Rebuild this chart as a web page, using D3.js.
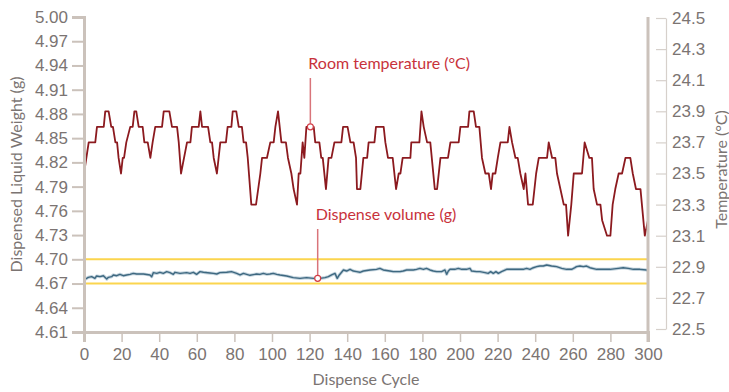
<!DOCTYPE html>
<html>
<head>
<meta charset="utf-8">
<script src="https://cdn.jsdelivr.net/npm/d3@7"></script>
<style>
  html, body { margin: 0; padding: 0; background: #ffffff; }
  svg { display: block; font-family: Lato, "Open Sans", sans-serif; }
</style>
</head>
<body>
<div id="chart"></div>
<script>
// tick labels
const weightTicks = [4.61, 4.64, 4.67, 4.70, 4.73, 4.76, 4.79, 4.82, 4.85, 4.88, 4.91, 4.94, 4.97, 5.00];
const tempTicks = [22.5, 22.7, 22.9, 23.1, 23.3, 23.5, 23.7, 23.9, 24.1, 24.3, 24.5];
const cycleTicks = [0, 20, 40, 60, 80, 100, 120, 140, 160, 180, 200, 220, 240, 260, 280, 300];

// spec limits (g)
const specLimits = [4.70, 4.67];

// room temperature (°C), [cycle, temp]
const roomTemp = [
  [0,23.5],[2.5,23.7],[6,23.7],[6.9,23.8],[10.5,23.8],[11.3,23.9],[13.1,23.9],[14.5,23.8],[15.4,23.8],
  [16.7,23.7],[17.6,23.7],[18.4,23.6],[19.7,23.5],[20.6,23.6],[21.3,23.6],[22.5,23.7],[24.6,23.8],
  [25.9,23.8],[26.8,23.9],[27.8,23.9],[29.1,23.8],[31.2,23.8],[32.1,23.7],[33.9,23.7],[35.3,23.6],
  [36.5,23.7],[37.9,23.8],[41.5,23.8],[42.4,23.9],[45.4,23.9],[46.8,23.8],[49.5,23.8],[50.4,23.7],
  [51.6,23.5],[54.8,23.7],[56.6,23.7],[57.4,23.8],[61,23.8],[61.9,23.9],[62.8,23.8],[66,23.8],
  [67.2,23.7],[68.1,23.7],[69,23.6],[70.7,23.5],[71.6,23.6],[72.5,23.7],[75.5,23.7],[76.4,23.8],
  [78.4,23.8],[79.1,23.9],[81,23.9],[82.3,23.8],[84,23.8],[84.9,23.7],[86.2,23.7],[87.1,23.6],
  [89,23.3],[91.5,23.3],[93.8,23.5],[94.7,23.6],[97.3,23.6],[99.1,23.7],[100.9,23.7],[101.8,23.8],
  [103.2,23.9],[105,23.7],[107.4,23.7],[108.5,23.6],[110.3,23.5],[111.5,23.4],[113.3,23.3],
  [114.2,23.5],[115.1,23.5],[116.3,23.7],[117.2,23.6],[118.3,23.8],[122.2,23.8],[123,23.7],
  [125.2,23.7],[126.2,23.6],[127,23.6],[128.7,23.4],[130.1,23.6],[131.6,23.6],[133.2,23.7],
  [136.9,23.7],[137.8,23.8],[140.2,23.8],[141.7,23.7],[143.4,23.7],[144.7,23.6],[145.2,23.4],
  [147,23.4],[148.6,23.6],[150.6,23.6],[151.4,23.7],[154.5,23.7],[155.3,23.8],[159.4,23.8],
  [160.3,23.7],[161.7,23.6],[164.2,23.6],[166,23.4],[167.4,23.5],[168.3,23.5],[169.5,23.6],
  [173.6,23.6],[174.1,23.7],[178.4,23.7],[179.5,23.9],[180.7,23.8],[182.5,23.7],[184.2,23.7],
  [186.6,23.4],[187.8,23.4],[189.6,23.6],[193.6,23.6],[194.9,23.7],[199.3,23.7],[200.2,23.8],
  [204.3,23.8],[205,23.9],[207.3,23.9],[208.5,23.8],[210.3,23.8],[211.7,23.6],[213.5,23.5],
  [215.3,23.5],[216.5,23.4],[217.4,23.5],[218.8,23.5],[220.1,23.6],[221.5,23.7],[225.4,23.7],
  [226.3,23.8],[227.7,23.7],[229.5,23.6],[230.7,23.6],[232.1,23.5],[233.9,23.4],[234.8,23.5],
  [236.2,23.3],[238.7,23.3],[240.5,23.5],[241.9,23.6],[246.3,23.6],[247.2,23.7],[249,23.6],
  [250.7,23.6],[251.6,23.5],[253.4,23.4],[255.2,23.3],[256.4,23.3],[257.5,23.1],[259.2,23.3],
  [260.5,23.5],[264.9,23.5],[266.3,23.7],[268.8,23.6],[270.2,23.6],[271.1,23.4],[272.9,23.3],
  [274.7,23.3],[275.6,23.2],[278.2,23.1],[280,23.1],[281.2,23.3],[282.6,23.4],[284.4,23.5],
  [286.2,23.5],[288,23.6],[290.6,23.6],[291.9,23.5],[293.6,23.4],[296,23.4],[298.3,23.1],[300,23.2]
];

// dispensed volume (g), [cycle, weight]
const dispenseVol = [
  [0,4.6744],[2.3,4.6777],[4.1,4.6785],[5.8,4.6764],[6.7,4.6793],[8.5,4.6785],[10.3,4.6797],
  [12.1,4.6756],[13,4.6777],[14.7,4.6785],[15.6,4.6806],[17.4,4.6797],[19.1,4.6814],[20.9,4.6797],
  [22.7,4.6806],[24.5,4.6814],[26.2,4.6826],[28,4.6818],[31.6,4.6818],[35.1,4.6806],[36,4.6785],
  [36.9,4.6835],[38.7,4.6826],[40.4,4.6839],[42.2,4.6826],[44,4.6847],[45.7,4.6835],[47.5,4.6814],
  [48.4,4.6839],[51.1,4.6826],[54.6,4.6835],[56.4,4.6826],[58.2,4.6839],[59.9,4.6814],[61.7,4.6847],
  [63.5,4.6839],[67,4.6830],[68.8,4.6826],[70.6,4.6818],[72.3,4.6835],[75.9,4.6839],[78.5,4.6847],
  [81.2,4.6826],[83,4.6806],[84.8,4.6826],[86.5,4.6814],[88.3,4.6802],[90.1,4.6810],[91.8,4.6818],
  [93.6,4.6814],[95.4,4.6826],[97.2,4.6814],[98.9,4.6818],[100.7,4.6826],[102.5,4.6814],
  [104.3,4.6806],[107.8,4.6793],[111.3,4.6773],[114.9,4.6764],[118.4,4.6773],[122,4.6764],
  [124.3,4.6764],[125.5,4.6764],[128.2,4.6773],[130,4.6785],[131.7,4.6806],[133.5,4.6826],
  [134.7,4.6764],[135.8,4.6806],[138,4.6868],[139.7,4.6855],[141.5,4.6876],[143.3,4.6855],
  [145,4.6847],[146.8,4.6839],[148.6,4.6855],[152.1,4.6868],[155.6,4.6876],[157.4,4.6888],
  [159.2,4.6868],[162.7,4.6855],[164.5,4.6847],[168.1,4.6847],[169.8,4.6855],[171.6,4.6868],
  [175.1,4.6868],[176.9,4.6876],[178.7,4.6888],[180.5,4.6876],[182.2,4.6888],[184,4.6868],
  [185.8,4.6855],[187.6,4.6847],[190.2,4.6847],[192,4.6868],[192.9,4.6814],[193.8,4.6855],
  [194.7,4.6876],[197.3,4.6876],[199.1,4.6888],[200.9,4.6876],[203.5,4.6876],[205.3,4.6888],
  [206.2,4.6855],[208.8,4.6847],[210.6,4.6847],[213.3,4.6835],[215,4.6826],[216.3,4.6847],
  [217.7,4.6826],[219.1,4.6847],[220.4,4.6826],[222.1,4.6847],[224.8,4.6876],[228.3,4.6876],
  [233.7,4.6876],[235.4,4.6888],[237.2,4.6876],[239,4.6896],[240.8,4.6909],[242.5,4.6917],
  [244.3,4.6917],[246.1,4.6929],[248.7,4.6917],[251.4,4.6909],[254.1,4.6888],[256.7,4.6876],
  [259.4,4.6876],[261.1,4.6896],[262,4.6909],[263.8,4.6917],[265.6,4.6909],[267.3,4.6917],
  [269.1,4.6896],[272.7,4.6876],[276.2,4.6876],[279.8,4.6876],[284.2,4.6888],[286.8,4.6896],
  [289.5,4.6888],[292.2,4.6876],[295.7,4.6876],[299.3,4.6868],[300,4.6855]
];

// callouts
const callouts = [
  { label: "Room temperature (°C)", cycle: 120.4, value: 23.8, axis: "temp", textY: 4.9356 },
  { label: "Dispense volume (g)", cycle: 124.3, value: 4.6765, axis: "weight", textY: 4.7487 }
];

const W = 729, H = 392;
const margin = { top: 17, right: 81, bottom: 60, left: 84 };
const width = W - margin.left - margin.right;
const height = H - margin.top - margin.bottom;

const axisColor = "#cbc2bb";
const textColor = "#7b7472";

const svg = d3.select("#chart").append("svg").attr("width", W).attr("height", H);
const g = svg.append("g").attr("transform", "translate(" + margin.left + "," + margin.top + ")");

const x = d3.scaleLinear().domain([0, 300]).range([0, width]);
const y = d3.scaleLinear().domain([4.61, 5.00]).range([height, 0]);
const yT = d3.scaleLinear().domain([22.5, 24.5]).range([height - 3, 1]);

// spec lines
g.selectAll(".spec")
  .data(specLimits)
  .enter()
  .append("line")
  .attr("x1", 0).attr("x2", width)
  .attr("y1", (d) => y(d)).attr("y2", (d) => y(d))
  .attr("stroke", "#fbd54e")
  .attr("stroke-width", 2);

// dispense volume line
const volLine = d3.line().x((d) => x(d[0])).y((d) => y(d[1]));
g.append("path").datum(dispenseVol)
  .attr("d", volLine).attr("fill", "none")
  .attr("stroke", "#c3d3dd").attr("stroke-width", 3.2).attr("stroke-linejoin", "round");
g.append("path").datum(dispenseVol)
  .attr("d", volLine).attr("fill", "none")
  .attr("stroke", "#3e6880").attr("stroke-width", 1.4).attr("stroke-linejoin", "round");

// room temperature line
const tempLine = d3.line().x((d) => x(d[0])).y((d) => yT(d[1]));
g.append("path").datum(roomTemp)
  .attr("d", tempLine).attr("fill", "none")
  .attr("stroke", "#8c1a1f").attr("stroke-width", 1.8).attr("stroke-linejoin", "round");

// left axis
const yAxis = g.append("g")
  .call(d3.axisLeft(y).tickValues(weightTicks).tickFormat(d3.format(".2f")).tickSize(12).tickPadding(4));
yAxis.select(".domain").attr("stroke", axisColor).attr("stroke-width", 3);
yAxis.selectAll(".tick line").attr("stroke", axisColor).attr("stroke-width", 2);
yAxis.selectAll("text").attr("fill", textColor).style("font-size", "17px").style("font-weight", 300);

// bottom axis
const xAxis = g.append("g").attr("transform", "translate(0," + height + ")")
  .call(d3.axisBottom(x).tickValues(cycleTicks).tickSize(10).tickPadding(6));
xAxis.select(".domain").attr("stroke", axisColor).attr("stroke-width", 3);
xAxis.selectAll(".tick line").attr("stroke", axisColor).attr("stroke-width", 1.5);
xAxis.selectAll("text").attr("fill", textColor).style("font-size", "17px").style("font-weight", 300);

// right frame line
g.append("line")
  .attr("x1", width).attr("x2", width).attr("y1", 0).attr("y2", height + 10)
  .attr("stroke", axisColor).attr("stroke-width", 3);

// right axis
const yTAxis = g.append("g").attr("transform", "translate(" + (width + 18) + ",0)")
  .call(d3.axisRight(yT).tickValues(tempTicks).tickFormat(d3.format(".1f")).tickSize(0).tickPadding(6));
yTAxis.select(".domain").attr("stroke", "#d6d0cb").attr("stroke-width", 1.2);
yTAxis.selectAll(".tick").append("line")
  .attr("x1", -10).attr("x2", 0).attr("stroke", "#d6d0cb").attr("stroke-width", 1.2);
yTAxis.selectAll("text").attr("fill", textColor).style("font-size", "17px").style("font-weight", 300);

// axis titles
svg.append("text")
  .attr("transform", "translate(22," + (margin.top + height / 2) + ") rotate(-90)")
  .attr("text-anchor", "middle").attr("fill", textColor)
  .style("font-size", "16px").text("Dispensed Liquid Weight (g)");
svg.append("text")
  .attr("transform", "translate(727," + (margin.top + height / 2 - 5) + ") rotate(-90)")
  .attr("text-anchor", "middle").attr("fill", textColor)
  .style("font-size", "16px").text("Temperature (°C)");
svg.append("text")
  .attr("x", margin.left + width / 2).attr("y", 385)
  .attr("text-anchor", "middle").attr("fill", textColor)
  .style("font-size", "16px").text("Dispense Cycle");

// callouts
callouts.forEach((c) => {
  const px = x(c.cycle);
  const py = c.axis === "temp" ? yT(c.value) : y(c.value);
  const ty = y(c.textY);
  g.append("line")
    .attr("x1", px).attr("x2", px).attr("y1", ty + 9).attr("y2", py - 3)
    .attr("stroke", "#d9747a").attr("stroke-width", 1.5);
  g.append("circle")
    .attr("cx", px).attr("cy", py).attr("r", 3)
    .attr("fill", "#ffffff").attr("stroke", "#d23d46").attr("stroke-width", 1.2);
  g.append("text")
    .attr("x", px - 2).attr("y", ty)
    .attr("fill", "#c8323b").style("font-size", "16px")
    .text(c.label);
});
</script>
</body>
</html>
